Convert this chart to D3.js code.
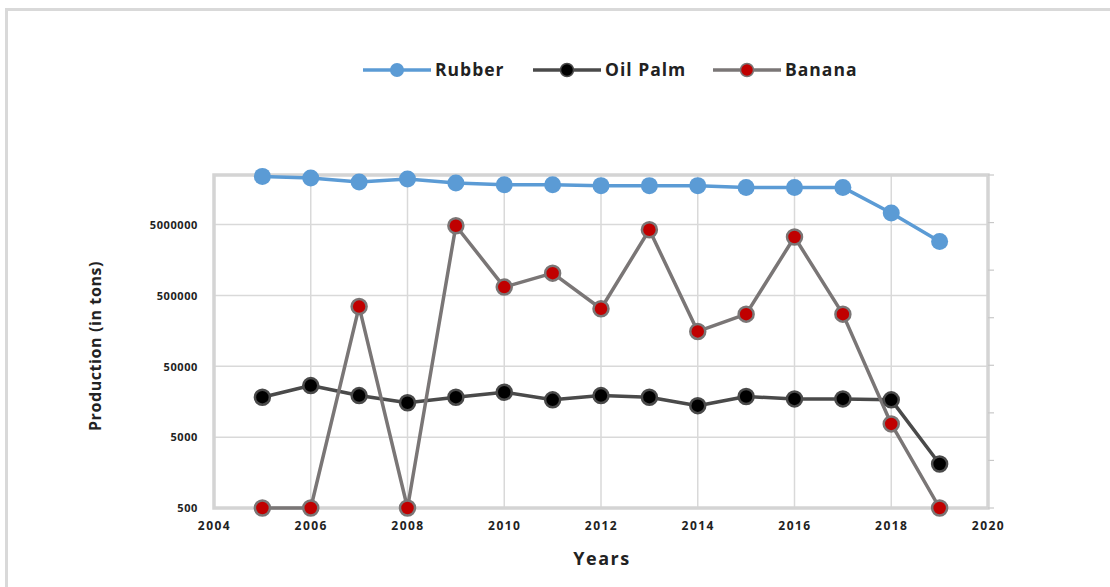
<!DOCTYPE html>
<html><head><meta charset="utf-8">
<script src="https://cdn.jsdelivr.net/npm/d3@7"></script>
<style>body{margin:0;background:#fff;} text{font-family:"Open Sans","Liberation Sans",sans-serif;}</style>
</head><body>
<svg id="c" width="1110" height="587"></svg>
<script>
const years = [2005,2006,2007,2008,2009,2010,2011,2012,2013,2014,2015,2016,2017,2018,2019];
const rubber = [23900000,22700000,19900000,22000000,19300000,18200000,18200000,17700000,17700000,17700000,16700000,16700000,16700000,7270000,2880000];
const oilPalm = [18300,26700,19300,15300,18300,21500,16800,19300,18300,13900,18700,17300,17300,16800,2090];
const banana = [500,500,348000,500,4810000,655000,1030000,324000,4220000,155000,272000,3330000,272000,7680,500];
const yTicks = [500,5000,50000,500000,5000000];
const xTicks = [2004,2006,2008,2010,2012,2014,2016,2018,2020];

const series = [
  {name:"Rubber", values:rubber, line:"#5B9BD5", fill:"#5B9BD5", stroke:"#5B9BD5", r:8.5},
  {name:"Oil Palm", values:oilPalm, line:"#4a4a4a", fill:"#000000", stroke:"#4a4a4a", r:7.5},
  {name:"Banana", values:banana, line:"#7a7676", fill:"#C00000", stroke:"#7a7676", r:7.5}
];

const svg = d3.select("#c");
const L=214, R=988, T=175, B=508;
const x = d3.scaleLinear().domain([2004,2020]).range([L,R]);
const y = d3.scaleLog().domain([500,25000000]).range([B,T]);

// outer border
svg.append("path").attr("d","M6.5,600 V9.5 H1120").attr("fill","none").attr("stroke","#d9d9d9").attr("stroke-width",3);

// gridlines
svg.append("g").selectAll("line").data(yTicks.slice(1)).join("line")
  .attr("x1",L).attr("x2",R).attr("y1",d=>y(d)).attr("y2",d=>y(d)).attr("stroke","#d9d9d9").attr("stroke-width",1.5);
svg.append("g").selectAll("line").data(xTicks.slice(1,-1)).join("line")
  .attr("y1",T).attr("y2",B).attr("x1",d=>x(d)).attr("x2",d=>x(d)).attr("stroke","#d9d9d9").attr("stroke-width",1.5);

// plot border
svg.append("rect").attr("x",L).attr("y",T).attr("width",R-L).attr("height",B-T)
  .attr("fill","none").attr("stroke","#d4d4d4").attr("stroke-width",3.5);

// right secondary ticks (unlabeled)
const rTicks = d3.range(0,8);
svg.append("g").selectAll("line").data(rTicks).join("line")
  .attr("x1",R).attr("x2",R+6).attr("y1",d=>B-(B-T)*d/7).attr("y2",d=>B-(B-T)*d/7)
  .attr("stroke","#c8c8c8").attr("stroke-width",1.2);

// axes
const fmt = d3.format("d");
const yAxis = d3.axisLeft(y).tickValues(yTicks).tickFormat(fmt).tickSize(0).tickPadding(16);
const gy = svg.append("g").attr("transform",`translate(${L},0)`).call(yAxis);
gy.select(".domain").remove();
gy.selectAll("text").attr("font-size",11).attr("font-weight","bold").attr("fill","#222").attr("dy","0.35em")
  .attr("letter-spacing",0.6);

const xAxis = d3.axisBottom(x).tickValues(xTicks).tickFormat(fmt).tickSize(0).tickPadding(13);
const gx = svg.append("g").attr("transform",`translate(0,${B})`).call(xAxis);
gx.select(".domain").remove();
gx.selectAll("text").attr("font-size",12).attr("font-weight","bold").attr("fill","#222").attr("letter-spacing",1.5);

// lines & markers
const line = d3.line().x((d,i)=>x(years[i])).y(d=>y(d));
series.forEach(s=>{
  svg.append("path").datum(s.values).attr("d",line).attr("fill","none")
    .attr("stroke",s.line).attr("stroke-width",3.5).attr("stroke-linejoin","round");
});
series.forEach(s=>{
  svg.append("g").selectAll("circle").data(s.values).join("circle")
    .attr("cx",(d,i)=>x(years[i])).attr("cy",d=>y(d)).attr("r",s.r)
    .attr("fill",s.fill).attr("stroke",s.stroke).attr("stroke-width",s.name==="Rubber"?0:2.5);
});

// titles
svg.append("text").attr("x",602).attr("y",565).attr("text-anchor","middle")
  .attr("font-size",18).attr("font-weight","bold").attr("fill","#222").attr("letter-spacing",1.5).text("Years");
svg.append("text").attr("transform","translate(101,346) rotate(-90)").attr("text-anchor","middle")
  .attr("font-size",16).attr("font-weight","bold").attr("fill","#222").attr("letter-spacing",0.6).text("Production (in tons)");

// legend
const legX = [363,533,713];
series.forEach((s,i)=>{
  const g = svg.append("g").attr("transform",`translate(${legX[i]},70)`);
  g.append("line").attr("x1",0).attr("x2",68).attr("y1",0).attr("y2",0).attr("stroke",s.line).attr("stroke-width",3.5);
  g.append("circle").attr("cx",34).attr("cy",0).attr("r",s.name==="Rubber"?7:6.5).attr("fill",s.fill)
    .attr("stroke",s.stroke).attr("stroke-width",s.name==="Rubber"?0:1.5);
  g.append("text").attr("x",72).attr("y",0).attr("dy","0.35em").attr("font-size",17.5).attr("font-weight","bold")
    .attr("fill","#222").attr("letter-spacing",1).text(s.name);
});
</script>
</body></html>
